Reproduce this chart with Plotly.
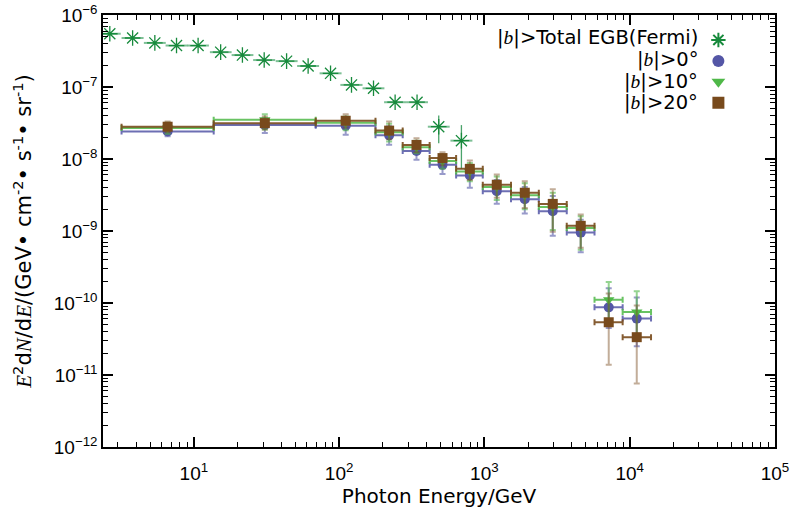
import plotly.graph_objects as go
import numpy as np

# ---- Fermi total EGB ----
fermi_x = [2.64, 3.79, 5.39, 7.6, 10.7, 15.3, 21.6, 30.5, 43.5, 61.2, 87.3, 121.7, 172.5, 243, 344, 485, 695]
fermi_xlo = [2.22, 3.18, 4.53, 6.39, 8.99, 12.9, 18.2, 25.6, 36.6, 51.4, 73.4, 102, 145, 204, 289, 408, 584]
fermi_xhi = [3.14, 4.51, 6.41, 9.04, 12.7, 18.2, 25.7, 36.3, 51.8, 72.8, 104, 145, 205, 289, 409, 577, 827]
fermi_y = [5.5e-7, 4.8e-7, 4.1e-7, 3.77e-7, 3.77e-7, 3.05e-7, 2.78e-7, 2.37e-7, 2.29e-7, 1.96e-7,
           1.55e-7, 1.07e-7, 9.6e-8, 6.15e-8, 6.15e-8, 2.81e-8, 1.80e-8]
fermi_ylo = [5.5e-7, 4.8e-7, 4.1e-7, 3.77e-7, 3.77e-7, 3.05e-7, 2.78e-7, 2.37e-7, 2.29e-7, 1.96e-7,
             1.55e-7, 1.07e-7, 9.6e-8, 6.15e-8, 6.15e-8, 1.65e-8, 7.3e-9]
fermi_yhi = [5.5e-7, 4.8e-7, 4.1e-7, 3.77e-7, 3.77e-7, 3.05e-7, 2.78e-7, 2.37e-7, 2.29e-7, 1.96e-7,
             1.55e-7, 1.07e-7, 9.6e-8, 6.15e-8, 6.15e-8, 4.03e-8, 2.96e-8]

# ---- shared energy bins for the latitude-cut spectra ----
e_x = [6.6, 30.8, 111, 221, 341, 515, 794, 1217, 1897, 2956, 4605, 7178, 11190]
e_lo = [3.18, 13.7, 69, 178, 274, 420, 639, 975, 1525, 2370, 3690, 5730, 8950]
e_hi = [13.7, 69, 178, 274, 420, 639, 975, 1525, 2370, 3690, 5730, 8950, 14030]

# |b| > 0 deg
b0_y = [2.42e-8, 2.96e-8, 2.9e-8, 2.13e-8, 1.29e-8, 8.3e-9, 5.9e-9, 3.56e-9, 2.76e-9, 1.88e-9, 9.5e-10, 8.7e-11, 6.07e-11]
b0_hi = [2.85e-8, 3.67e-8, 3.55e-8, 2.85e-8, 1.65e-8, 1.06e-8, 7.9e-9, 5.1e-9, 4.07e-9, 3.06e-9, 1.43e-9, 1.6e-10, 1.19e-10]
b0_lo = [2.07e-8, 2.29e-8, 2.18e-8, 1.58e-8, 9.8e-9, 6.2e-9, 4.0e-9, 2.4e-9, 1.75e-9, 8.6e-10, 5.05e-10, 4.5e-11, 2.5e-11]

# |b| > 10 deg
b10_y = [2.7e-8, 3.5e-8, 3.2e-8, 2.35e-8, 1.46e-8, 9.4e-9, 6.7e-9, 4.1e-9, 3.15e-9, 2.15e-9, 1.1e-9, 1.11e-10, 7.48e-11]
b10_hi = [3.2e-8, 4.2e-8, 3.9e-8, 3.1e-8, 1.8e-8, 1.15e-8, 8.8e-9, 5.7e-9, 4.6e-9, 3.4e-9, 1.6e-9, 1.95e-10, 1.45e-10]
b10_lo = [2.25e-8, 2.58e-8, 2.5e-8, 1.75e-8, 1.2e-8, 7.3e-9, 4.9e-9, 2.7e-9, 2.0e-9, 1.03e-9, 5.5e-10, 5.6e-11, 3.5e-11]

# |b| > 20 deg
b20_y = [2.81e-8, 3.15e-8, 3.4e-8, 2.48e-8, 1.57e-8, 1.03e-8, 7.3e-9, 4.39e-9, 3.40e-9, 2.38e-9, 1.18e-9, 5.4e-11, 3.35e-11]
b20_hi = [3.33e-8, 3.9e-8, 4.2e-8, 3.33e-8, 1.94e-8, 1.24e-8, 9.5e-9, 6.1e-9, 4.9e-9, 3.79e-9, 1.69e-9, 1.35e-10, 9.2e-11]
b20_lo = [2.35e-8, 2.58e-8, 2.75e-8, 1.88e-8, 1.24e-8, 8.2e-9, 5.1e-9, 2.9e-9, 2.09e-9, 9.75e-10, 5.86e-10, 1.39e-11, 7.6e-12]

IB = "<span style=\"font-family:'Liberation Serif'\"><i>b</i></span>"
legend_labels = [f"|{IB}|>Total EGB(Fermi)", f"|{IB}|>0°", f"|{IB}|>10°", f"|{IB}|>20°"]

x_tickvals = [10, 100, 1000, 10000, 100000]
x_ticktext = ["10<sup>1</sup>", "10<sup>2</sup>", "10<sup>3</sup>", "10<sup>4</sup>", "10<sup>5</sup>"]
y_tickvals = [1e-12, 1e-11, 1e-10, 1e-9, 1e-8, 1e-7, 1e-6]
y_ticktext = ["10<sup>−12</sup>", "10<sup>−11</sup>", "10<sup>−10</sup>", "10<sup>−9</sup>",
              "10<sup>−8</sup>", "10<sup>−7</sup>", "10<sup>−6</sup>"]

FONT = "Liberation Sans"
TFONT = "DejaVu Sans"


def serif_i(s):
    return f"<span style=\"font-family:'Liberation Serif'\"><i>{s}</i></span>"


y_title = (f"{serif_i('E')}<sup>2</sup>d{serif_i('N')}/d{serif_i('E')}/(GeV•&nbsp;cm<sup>-2</sup>•&nbsp;"
           f"s<sup>-1</sup>•&nbsp;sr<sup>-1</sup>)")


def errs(c, lo, hi):
    c = np.array(c); lo = np.array(lo); hi = np.array(hi)
    return (hi - c).tolist(), (c - lo).tolist()


def minor_vals(k0, k1):
    return [m * 10.0 ** k for k in range(k0, k1) for m in range(2, 10)]


fig = go.Figure()

# Fermi
fxp, fxm = errs(fermi_x, fermi_xlo, fermi_xhi)
fyp, fym = errs(fermi_y, fermi_ylo, fermi_yhi)
fig.add_trace(go.Scatter(
    x=fermi_x, y=fermi_y, mode="markers", name=" ",
    marker=dict(symbol="asterisk-open", size=13, color="#178a3c", line=dict(width=1.3, color="#178a3c")),
    error_x=dict(type="data", symmetric=False, array=fxp, arrayminus=fxm,
                 color="rgba(40,150,80,0.6)", thickness=2, width=0),
    error_y=dict(type="data", symmetric=False, array=fyp, arrayminus=fym,
                 color="rgba(30,140,70,0.8)", thickness=1.3, width=0),
))

series = [
    (b0_y, b0_lo, b0_hi, "circle", "#5456a6", "rgba(84,86,166,0.85)", "rgba(84,86,166,0.6)"),
    (b10_y, b10_lo, b10_hi, "triangle-down", "#4fb848", "rgba(79,184,72,0.85)", "rgba(79,184,72,0.6)"),
    (b20_y, b20_lo, b20_hi, "square", "#784a1c", "rgba(120,74,28,0.9)", "rgba(120,74,28,0.45)"),
]
exp_, exm_ = errs(e_x, e_lo, e_hi)
for y, lo, hi, sym, col, excol, eycol in series:
    yp, ym = errs(y, lo, hi)
    fig.add_trace(go.Scatter(
        x=e_x, y=y, mode="markers", name=" ",
        marker=dict(symbol=sym, size=10, color=col, line=dict(width=0)),
        error_x=dict(type="data", symmetric=False, array=exp_, arrayminus=exm_,
                     color=excol, thickness=2, width=3),
        error_y=dict(type="data", symmetric=False, array=yp, arrayminus=ym,
                     color=eycol, thickness=2, width=3),
    ))

# legend text (right-aligned, symbols drawn by the legend to its right)
rows_y = [0.947, 0.898, 0.847, 0.797]
for lab, yy in zip(legend_labels, rows_y):
    fig.add_annotation(x=0.888, y=yy, xref="paper", yref="paper", text=lab, showarrow=False,
                       xanchor="right", yanchor="middle", font=dict(family=TFONT, size=19.5, color="black"))

axis_common = dict(
    type="log", showgrid=False, zeroline=False, showline=True, linecolor="black", linewidth=1.5,
    mirror="allticks", ticks="inside", ticklen=10, tickwidth=1.5, tickcolor="black",
    tickmode="array", automargin=False, ticklabeloverflow="allow",
    tickfont=dict(family=FONT, size=19, color="black"),
)

fig.update_layout(
    width=792, height=511,
    margin=dict(l=103, r=17, t=15, b=64),
    paper_bgcolor="white", plot_bgcolor="white",
    font=dict(family=FONT, color="black"),
    xaxis=dict(axis_common, range=[np.log10(2.37), 5.0005], tickvals=x_tickvals, ticktext=x_ticktext,
               ticklabelstandoff=8,
               minor=dict(ticks="inside", ticklen=5, tickwidth=1.2, tickcolor="black",
                          tickvals=minor_vals(0, 5), showgrid=False),
               title=dict(text="Photon Energy/GeV", font=dict(family=TFONT, size=20), standoff=4)),
    yaxis=dict(axis_common, range=[-12.0005, -5.9995], tickvals=y_tickvals, ticktext=y_ticktext,
               minor=dict(ticks="inside", ticklen=5, tickwidth=1.2, tickcolor="black",
                          tickvals=minor_vals(-12, -6), showgrid=False),
               title=dict(text=y_title, font=dict(family=TFONT, size=21), standoff=16)),
    showlegend=True,
    legend=dict(x=0.886, y=0.978, xanchor="left", yanchor="top", bgcolor="rgba(0,0,0,0)",
                font=dict(family=FONT, size=13.8), tracegroupgap=0, itemsizing="constant",
                itemwidth=30),
)

fig.write_html("out.html", config={"displayModeBar": False},
               post_script="document.body.style.margin='0px';")
